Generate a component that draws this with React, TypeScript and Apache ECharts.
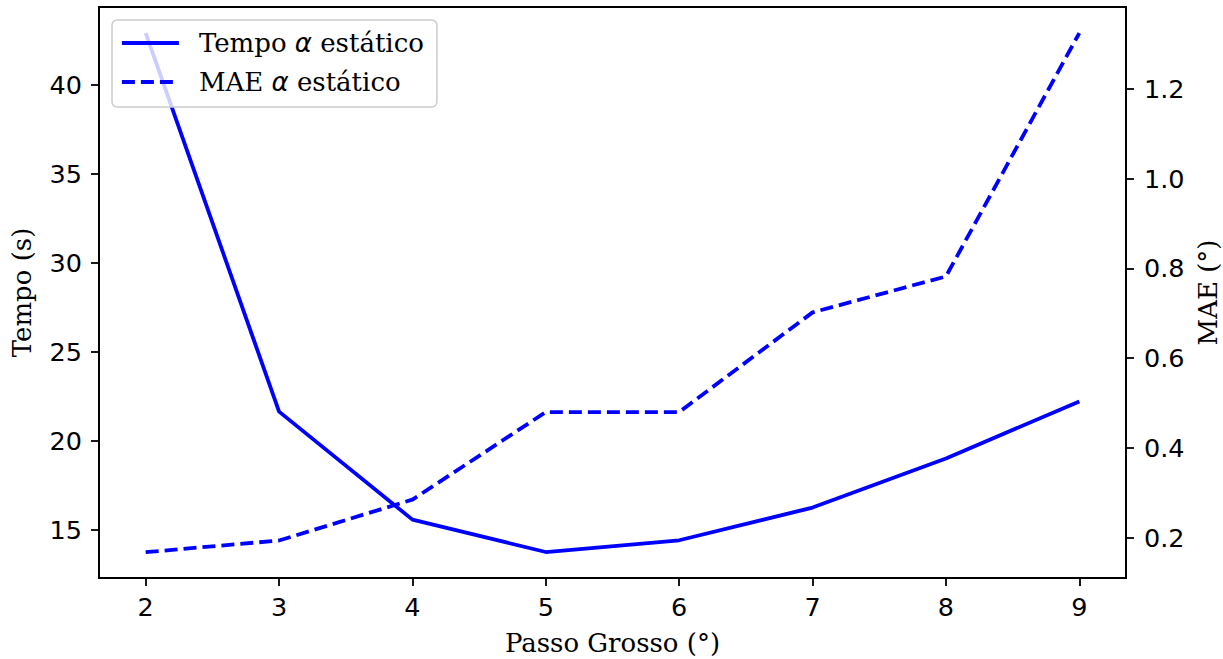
import React, { useEffect, useRef } from "react";
import * as echarts from "echarts";

const passo = [2, 3, 4, 5, 6, 7, 8, 9];
const tempo = [42.9, 21.63, 15.56, 13.74, 14.4, 16.24, 19.0, 22.2];
const mae = [0.168, 0.194, 0.285, 0.48, 0.48, 0.702, 0.782, 1.324];
const xTicks = [2, 3, 4, 5, 6, 7, 8, 9];
const tempoTicks = [15, 20, 25, 30, 35, 40];
const maeTicks = [0.2, 0.4, 0.6, 0.8, 1.0, 1.2];

const SANS = "DejaVu Sans";
const SERIF = "DejaVu Serif";
const BLUE = "#0000ff";
const LW = 3.8;

export default function App() {
  const ref = useRef<HTMLDivElement>(null);
  useEffect(() => {
    if (!ref.current) return;
    const chart = echarts.init(ref.current, null, { renderer: "svg" });
    const tickFont = { color: "#000", fontFamily: SANS, fontSize: 25.5 };
    const nameFont = { color: "#000", fontFamily: SERIF, fontSize: 26 };
    chart.setOption({
      animation: false,
      backgroundColor: "#fff",
      grid: {
        left: 99,
        right: 97,
        top: 7,
        bottom: 81,
        containLabel: false,
        outerBoundsMode: "none",
        show: true,
        borderColor: "#000",
        borderWidth: 1.8,
        backgroundColor: "transparent",
      },
      legend: {
        left: 112,
        top: 20,
        orient: "vertical",
        itemWidth: 57,
        itemHeight: 26,
        itemGap: 13,
        padding: [10, 13, 12, 8],
        backgroundColor: "rgba(255,255,255,0.8)",
        borderColor: "#cccccc",
        borderWidth: 1.5,
        borderRadius: 5,
        formatter: (name: string) => name.replace("α", "{a|α}"),
        textStyle: {
          color: "#000",
          fontFamily: SERIF,
          fontSize: 26,
          padding: [0, 0, 0, 15],
          rich: {
            a: { fontFamily: SANS, fontStyle: "italic", fontSize: 26, color: "#000" },
          },
        },
        data: [
          {
            name: "Tempo α estático",
            itemStyle: { opacity: 0 },
            lineStyle: { color: BLUE, width: LW, type: "solid" },
          },
          {
            name: "MAE α estático",
            itemStyle: { opacity: 0 },
            lineStyle: { color: BLUE, width: LW, type: [13, 6] },
          },
        ],
      },
      xAxis: {
        type: "value",
        min: 1.65,
        max: 9.35,
        name: "Passo Grosso (°)",
        nameLocation: "middle",
        nameGap: 52,
        nameTextStyle: nameFont,
        splitLine: { show: false },
        axisLine: { lineStyle: { color: "#000", width: 1.8 } },
        axisTick: { show: true, length: 8, lineStyle: { color: "#000", width: 1.8 }, customValues: xTicks },
        axisLabel: { ...tickFont, margin: 16, customValues: xTicks, formatter: (v: number) => String(v) },
      },
      yAxis: [
        {
          type: "value",
          min: 12.28,
          max: 44.37,
          name: "Tempo (s)",
          nameLocation: "middle",
          nameGap: 64,
          nameRotate: 90,
          nameTextStyle: nameFont,
          splitLine: { show: false },
          axisLine: { show: true, lineStyle: { color: "#000", width: 1.8 } },
          axisTick: { show: true, length: 8, lineStyle: { color: "#000", width: 1.8 }, customValues: tempoTicks },
          axisLabel: { ...tickFont, margin: 17, customValues: tempoTicks, formatter: (v: number) => String(v) },
        },
        {
          type: "value",
          position: "right",
          min: 0.1105,
          max: 1.382,
          name: "MAE (°)",
          nameLocation: "middle",
          nameGap: 66,
          nameRotate: 90,
          nameTextStyle: nameFont,
          splitLine: { show: false },
          axisLine: { show: true, lineStyle: { color: "#000", width: 1.8 } },
          axisTick: { show: true, length: 8, lineStyle: { color: "#000", width: 1.8 }, customValues: maeTicks },
          axisLabel: { ...tickFont, margin: 18, customValues: maeTicks, formatter: (v: number) => v.toFixed(1) },
        },
      ],
      series: [
        {
          name: "Tempo α estático",
          type: "line",
          yAxisIndex: 0,
          data: passo.map((x, i) => [x, tempo[i]]),
          symbol: "none",
          lineStyle: { color: BLUE, width: LW },
          itemStyle: { color: BLUE },
        },
        {
          name: "MAE α estático",
          type: "line",
          yAxisIndex: 1,
          data: passo.map((x, i) => [x, mae[i]]),
          symbol: "none",
          lineStyle: { color: BLUE, width: LW, type: [13, 6] },
          itemStyle: { color: BLUE },
        },
      ],
    });
    return () => chart.dispose();
  }, []);
  return (
    <div
      ref={ref}
      style={{ position: "fixed", left: 0, top: 0, width: 1223, height: 659, background: "#fff" }}
    />
  );
}
